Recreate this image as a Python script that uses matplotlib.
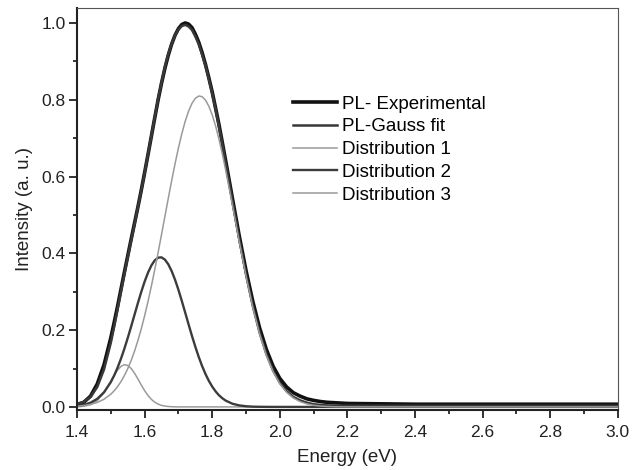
#!/usr/bin/env python3
"""
PL spectrum with Gaussian decomposition (experimental, fit, three components).
"""

import matplotlib
matplotlib.use("Agg")
import matplotlib.pyplot as plt
import matplotlib.ticker as ticker

plt.rcParams["font.family"] = ["Liberation Sans", "DejaVu Sans"]

# energy grid (eV) (finer around the peaks)
energy = [1.40, 1.42, 1.44, 1.46, 1.48,
          1.50, 1.51, 1.52, 1.53, 1.54, 1.55, 1.56, 1.57, 1.58, 1.59,
          1.60, 1.61, 1.62, 1.63, 1.64, 1.65, 1.66, 1.67, 1.68, 1.69,
          1.70, 1.71, 1.72, 1.73, 1.74, 1.75, 1.76, 1.77, 1.78, 1.79,
          1.80, 1.81, 1.82, 1.83, 1.84,
          1.86, 1.88, 1.90, 1.92, 1.94, 1.96, 1.98,
          2.00, 2.02, 2.04, 2.06, 2.08, 2.10, 2.12, 2.14, 2.16, 2.18, 2.20,
          2.30, 2.40, 2.50, 2.60, 2.70, 2.80, 2.90, 3.00]

pl_experimental = [0.006, 0.012, 0.028, 0.060, 0.110,
                   0.180, 0.220, 0.262, 0.306, 0.350, 0.393, 0.436, 0.478, 0.520, 0.564,
                   0.610, 0.657, 0.705, 0.753, 0.800, 0.843, 0.882, 0.916, 0.945, 0.968,
                   0.985, 0.996, 1.000, 0.997, 0.988, 0.971, 0.950, 0.923, 0.892, 0.857,
                   0.820, 0.778, 0.735, 0.688, 0.640,
                   0.542, 0.445, 0.355, 0.275, 0.206, 0.150, 0.106,
                   0.074, 0.052, 0.037, 0.028, 0.021, 0.017, 0.014, 0.012, 0.011, 0.010, 0.009,
                   0.008, 0.007, 0.007, 0.007, 0.007, 0.007, 0.007, 0.007]

pl_gauss_fit = [0.008, 0.013, 0.026, 0.052, 0.098,
                0.167, 0.209, 0.254, 0.300, 0.345, 0.390, 0.433, 0.475, 0.519, 0.563,
                0.609, 0.657, 0.706, 0.754, 0.802, 0.845, 0.885, 0.919, 0.946, 0.968,
                0.983, 0.992, 0.995, 0.991, 0.982, 0.965, 0.945, 0.918, 0.889, 0.854,
                0.816, 0.775, 0.730, 0.683, 0.635,
                0.536, 0.437, 0.345, 0.263, 0.194, 0.138, 0.095,
                0.063, 0.041, 0.026, 0.017, 0.011, 0.007, 0.005, 0.004, 0.0035, 0.003, 0.003,
                0.003, 0.003, 0.003, 0.003, 0.003, 0.003, 0.003, 0.003]

distribution_1 = [0.0004, 0.0016, 0.0058, 0.0164, 0.0370,
                  0.0667, 0.0823, 0.0959, 0.1056, 0.1099, 0.1080, 0.1004, 0.0881, 0.0731, 0.0573,
                  0.0424, 0.0297, 0.0196, 0.0123, 0.0072, 0.0040, 0.0021, 0.0011, 0.0005, 0.0002,
                  0.0001, 0.0, 0.0, 0.0, 0.0, 0.0, 0.0, 0.0, 0.0, 0.0,
                  0.0, 0.0, 0.0, 0.0, 0.0,
                  0.0, 0.0, 0.0, 0.0, 0.0, 0.0, 0.0,
                  0.0, 0.0, 0.0, 0.0, 0.0, 0.0, 0.0, 0.0, 0.0, 0.0, 0.0,
                  0.0, 0.0, 0.0, 0.0, 0.0, 0.0, 0.0, 0.0]

distribution_2 = [0.0024, 0.0053, 0.0109, 0.0211, 0.0382,
                  0.0646, 0.0820, 0.1023, 0.1254, 0.1512, 0.1793, 0.2090, 0.2396, 0.2701, 0.2994,
                  0.3263, 0.3496, 0.3684, 0.3817, 0.3888, 0.3895, 0.3836, 0.3715, 0.3538, 0.3313,
                  0.3050, 0.2761, 0.2457, 0.2151, 0.1851, 0.1567, 0.1303, 0.1066, 0.0858, 0.0679,
                  0.0528, 0.0404, 0.0303, 0.0225, 0.0163,
                  0.0082, 0.0039, 0.0017, 0.0007, 0.0003, 0.0001, 0.0,
                  0.0, 0.0, 0.0, 0.0, 0.0, 0.0, 0.0, 0.0, 0.0, 0.0, 0.0,
                  0.0, 0.0, 0.0, 0.0, 0.0, 0.0, 0.0, 0.0]

distribution_3 = [0.0018, 0.0035, 0.0065, 0.0116, 0.0200,
                  0.0331, 0.0420, 0.0528, 0.0658, 0.0813, 0.0995, 0.1205, 0.1448, 0.1723, 0.2031,
                  0.2372, 0.2745, 0.3148, 0.3575, 0.4025, 0.4489, 0.4960, 0.5431, 0.5891, 0.6332,
                  0.6743, 0.7113, 0.7437, 0.7702, 0.7904, 0.8037, 0.8097, 0.8081, 0.7992, 0.7832,
                  0.7604, 0.7313, 0.6970, 0.6582, 0.6158,
                  0.5243, 0.4302, 0.3401, 0.2592, 0.1904, 0.1347, 0.0919,
                  0.0603, 0.0383, 0.0233, 0.0137, 0.0078, 0.0043, 0.0022, 0.0011, 0.0005, 0.0002, 0.0001,
                  0.0, 0.0, 0.0, 0.0, 0.0, 0.0, 0.0, 0.0]

SERIES = [
    ("PL- Experimental", pl_experimental, "#111111", 2.6),
    ("PL-Gauss fit", pl_gauss_fit, "#383838", 1.8),
    ("Distribution 1", distribution_1, "#9a9a9a", 1.1),
    ("Distribution 2", distribution_2, "#3c3c3c", 1.7),
    ("Distribution 3", distribution_3, "#9a9a9a", 1.1),
]


def main():
    fig = plt.figure(figsize=(6.39, 4.70), dpi=100)
    ax = fig.add_axes([0.1205, 0.1277, 0.8465, 0.8553])

    for label, values, color, lw in SERIES:
        ax.plot(energy, values, color=color, linewidth=lw, label=label,
                solid_joinstyle="round")

    ax.set_xlim(1.4, 3.0)
    ax.set_ylim(-0.008, 1.039)
    ax.xaxis.set_major_locator(ticker.MultipleLocator(0.2))
    ax.xaxis.set_minor_locator(ticker.MultipleLocator(0.1))
    ax.yaxis.set_major_locator(ticker.MultipleLocator(0.2))
    ax.yaxis.set_minor_locator(ticker.MultipleLocator(0.1))
    ax.xaxis.set_major_formatter(ticker.FormatStrFormatter("%.1f"))
    ax.yaxis.set_major_formatter(ticker.FormatStrFormatter("%.1f"))
    ax.tick_params(axis="both", which="major", direction="out", length=6,
                   width=1.3, labelsize=12.5, colors="#222222")
    ax.tick_params(axis="x", which="major", pad=5)
    ax.tick_params(axis="y", which="major", pad=2)
    ax.tick_params(axis="both", which="minor", direction="out", length=3, width=1.1)
    ax.tick_params(top=False, right=False, which="both")

    for side in ("left", "bottom"):
        ax.spines[side].set_linewidth(1.5)
        ax.spines[side].set_color("#222222")
    for side in ("top", "right"):
        ax.spines[side].set_linewidth(0.8)
        ax.spines[side].set_color("#555555")

    ax.set_xlabel("Energy (eV)", fontsize=13.5, color="#222222", labelpad=6)
    ax.set_ylabel("Intensity (a. u.)", fontsize=13.5, color="#222222", labelpad=6)

    ax.legend(loc="upper left", bbox_to_anchor=(0.399, 0.782), frameon=False,
              fontsize=13.5, borderpad=0, borderaxespad=0, handlelength=2.35,
              handletextpad=0.27, labelspacing=0.3)

    fig.savefig("out.png", dpi=100)
    plt.close(fig)


if __name__ == "__main__":
    main()
